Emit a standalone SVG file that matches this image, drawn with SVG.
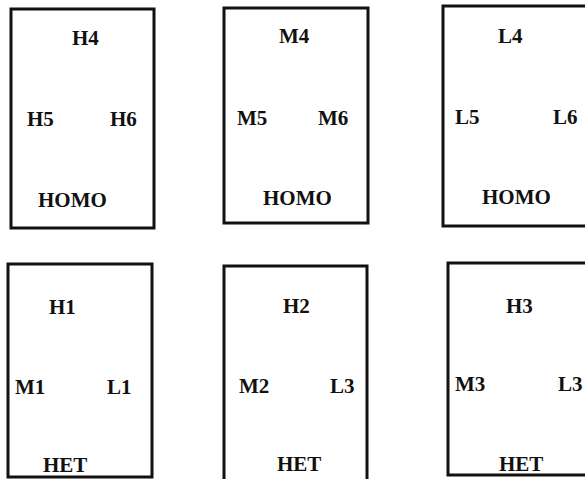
<svg xmlns="http://www.w3.org/2000/svg" width="585" height="479" viewBox="0 0 585 479">
<style>
.box{fill:none;stroke:#111;stroke-width:3}
text{font-family:"Liberation Serif","Times New Roman",serif;font-weight:bold;font-size:21px;fill:#111}
</style>
<rect width="585" height="479" fill="#fff"/>
<g id="homo-h">
<rect class="box" x="11" y="9" width="143" height="219"/>
<text x="72" y="45">H4</text>
<text x="27" y="126">H5</text>
<text x="110" y="126">H6</text>
<text x="38" y="207">HOMO</text>
</g>
<g id="homo-m">
<rect class="box" x="224" y="8" width="144" height="215"/>
<text x="279" y="43">M4</text>
<text x="237" y="125">M5</text>
<text x="318" y="125">M6</text>
<text x="263" y="205">HOMO</text>
</g>
<g id="homo-l">
<rect class="box" x="443" y="6" width="150" height="220"/>
<text x="498" y="43">L4</text>
<text x="455" y="124">L5</text>
<text x="553" y="124">L6</text>
<text x="482" y="204">HOMO</text>
</g>
<g id="het-1">
<rect class="box" x="8" y="264" width="144" height="213"/>
<text x="49" y="314">H1</text>
<text x="15" y="394">M1</text>
<text x="107" y="394">L1</text>
<text x="43" y="472">HET</text>
</g>
<g id="het-2">
<rect class="box" x="224" y="266" width="143" height="215"/>
<text x="283" y="313">H2</text>
<text x="239" y="393">M2</text>
<text x="330" y="393">L3</text>
<text x="277" y="471">HET</text>
</g>
<g id="het-3">
<rect class="box" x="448" y="263" width="145" height="212"/>
<text x="506" y="313">H3</text>
<text x="455" y="391">M3</text>
<text x="558" y="391">L3</text>
<text x="499" y="471">HET</text>
</g>
<g id="connectors"></g>
</svg>
